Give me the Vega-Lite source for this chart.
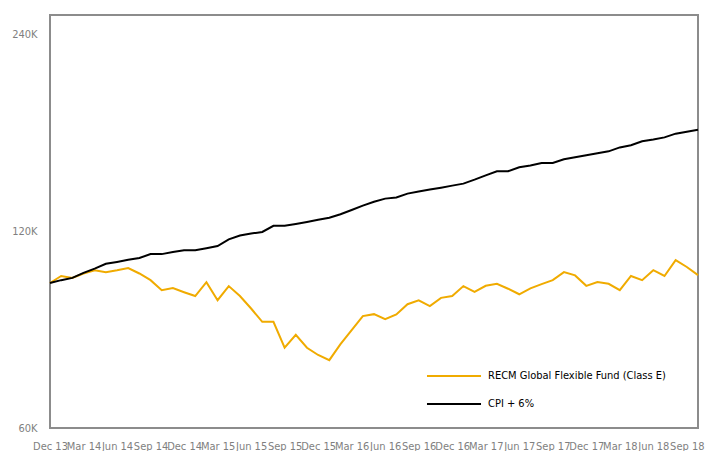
{
  "$schema": "https://vega.github.io/schema/vega-lite/v6.json",
  "width": 648,
  "height": 413,
  "autosize": {"type": "none"},
  "padding": {"left": 50, "top": 15, "right": 9, "bottom": 23},
  "background": "white",
  "config": {
    "view": {"stroke": "#8c8c8c", "strokeWidth": 2},
    "font": "DejaVu Sans Condensed, Liberation Sans, sans-serif"
  },
  "data": {
    "values": [
      {"m": "Dec 13", "fund": 100000, "cpi": 100000},
      {"m": "Jan 14", "fund": 102500, "cpi": 101000},
      {"m": "Feb 14", "fund": 101800, "cpi": 101800},
      {"m": "Mar 14", "fund": 103400, "cpi": 103600},
      {"m": "Apr 14", "fund": 104600, "cpi": 105200},
      {"m": "May 14", "fund": 103900, "cpi": 107000},
      {"m": "Jun 14", "fund": 104600, "cpi": 107700},
      {"m": "Jul 14", "fund": 105400, "cpi": 108500},
      {"m": "Aug 14", "fund": 103400, "cpi": 109200},
      {"m": "Sep 14", "fund": 101000, "cpi": 110700},
      {"m": "Oct 14", "fund": 97500, "cpi": 110700},
      {"m": "Nov 14", "fund": 98200, "cpi": 111500},
      {"m": "Dec 14", "fund": 96800, "cpi": 112200},
      {"m": "Jan 15", "fund": 95500, "cpi": 112200},
      {"m": "Feb 15", "fund": 100300, "cpi": 113000},
      {"m": "Mar 15", "fund": 94100, "cpi": 113900},
      {"m": "Apr 15", "fund": 98900, "cpi": 116600},
      {"m": "May 15", "fund": 95500, "cpi": 118200},
      {"m": "Jun 15", "fund": 91400, "cpi": 119000},
      {"m": "Jul 15", "fund": 87200, "cpi": 119700},
      {"m": "Aug 15", "fund": 87200, "cpi": 122300},
      {"m": "Sep 15", "fund": 79600, "cpi": 122300},
      {"m": "Oct 15", "fund": 83300, "cpi": 123100},
      {"m": "Nov 15", "fund": 79600, "cpi": 124000},
      {"m": "Dec 15", "fund": 77600, "cpi": 124900},
      {"m": "Jan 16", "fund": 76200, "cpi": 125800},
      {"m": "Feb 16", "fund": 80600, "cpi": 127400},
      {"m": "Mar 16", "fund": 84700, "cpi": 129300},
      {"m": "Apr 16", "fund": 89000, "cpi": 131300},
      {"m": "May 16", "fund": 89600, "cpi": 133100},
      {"m": "Jun 16", "fund": 88000, "cpi": 134600},
      {"m": "Jul 16", "fund": 89500, "cpi": 135100},
      {"m": "Aug 16", "fund": 92800, "cpi": 137000},
      {"m": "Sep 16", "fund": 94100, "cpi": 138000},
      {"m": "Oct 16", "fund": 92200, "cpi": 139000},
      {"m": "Nov 16", "fund": 94900, "cpi": 139900},
      {"m": "Dec 16", "fund": 95500, "cpi": 140900},
      {"m": "Jan 17", "fund": 98900, "cpi": 141900},
      {"m": "Feb 17", "fund": 96900, "cpi": 143900},
      {"m": "Mar 17", "fund": 99000, "cpi": 146100},
      {"m": "Apr 17", "fund": 99700, "cpi": 148200},
      {"m": "May 17", "fund": 98000, "cpi": 148200},
      {"m": "Jun 17", "fund": 96100, "cpi": 150300},
      {"m": "Jul 17", "fund": 98100, "cpi": 151300},
      {"m": "Aug 17", "fund": 99600, "cpi": 152600},
      {"m": "Sep 17", "fund": 101000, "cpi": 152600},
      {"m": "Oct 17", "fund": 103900, "cpi": 154600},
      {"m": "Nov 17", "fund": 102700, "cpi": 155700},
      {"m": "Dec 17", "fund": 99000, "cpi": 156800},
      {"m": "Jan 18", "fund": 100300, "cpi": 157900},
      {"m": "Feb 18", "fund": 99700, "cpi": 159000},
      {"m": "Mar 18", "fund": 97500, "cpi": 161200},
      {"m": "Apr 18", "fund": 102500, "cpi": 162400},
      {"m": "May 18", "fund": 101000, "cpi": 164700},
      {"m": "Jun 18", "fund": 104600, "cpi": 165700},
      {"m": "Jul 18", "fund": 102500, "cpi": 167000},
      {"m": "Aug 18", "fund": 108400, "cpi": 169200},
      {"m": "Sep 18", "fund": 105800, "cpi": 170400},
      {"m": "Oct 18", "fund": 102800, "cpi": 171600}
    ]
  },
  "transform": [
    {"fold": ["fund", "cpi"], "as": ["series", "value"]}
  ],
  "mark": {"type": "line", "strokeWidth": 2},
  "encoding": {
    "x": {
      "field": "m",
      "type": "ordinal",
      "sort": null,
      "scale": {"type": "point", "padding": 0},
      "axis": {
        "title": null,
        "domain": false,
        "ticks": false,
        "labelAngle": 0,
        "labelOverlap": false,
        "labelBound": false,
        "labelFontSize": 11,
        "labelColor": "#7f7f7f",
        "labelPadding": 12,
        "values": ["Dec 13", "Mar 14", "Jun 14", "Sep 14", "Dec 14", "Mar 15", "Jun 15", "Sep 15", "Dec 15", "Mar 16", "Jun 16", "Sep 16", "Dec 16", "Mar 17", "Jun 17", "Sep 17", "Dec 17", "Mar 18", "Jun 18", "Sep 18"]
      }
    },
    "y": {
      "field": "value",
      "type": "quantitative",
      "scale": {"type": "log", "domain": [60000, 257000], "nice": false},
      "axis": {
        "title": null,
        "domain": false,
        "ticks": false,
        "grid": false,
        "values": [60000, 120000, 240000],
        "labelExpr": "datum.value / 1000 + 'K'",
        "labelFontSize": 11,
        "labelColor": "#7f7f7f",
        "labelPadding": 13
      }
    },
    "color": {
      "field": "series",
      "type": "nominal",
      "sort": ["fund", "cpi"],
      "scale": {"domain": ["fund", "cpi"], "range": ["#F0AB00", "#000000"]},
      "legend": {
        "title": null,
        "orient": "none",
        "legendX": 392,
        "legendY": 349,
        "symbolType": "M-2.5,0L2.5,0",
        "symbolSize": 467,
        "symbolStrokeWidth": 2,
        "rowPadding": 11,
        "labelFontSize": 11,
        "labelLimit": 400,
        "labelColor": "#000000",
        "labelOffset": 22,
        "labelExpr": "datum.value == 'fund' ? 'RECM Global Flexible Fund (Class E)' : 'CPI + 6%'"
      }
    }
  }
}
